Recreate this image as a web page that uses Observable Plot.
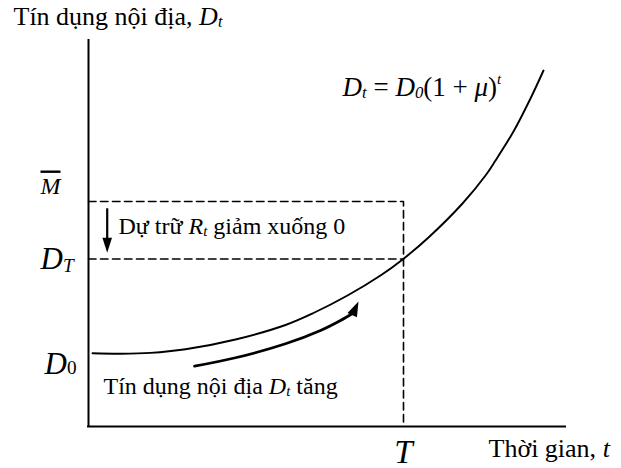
<!DOCTYPE html>
<html><head><meta charset="utf-8">
<script src="https://cdn.jsdelivr.net/npm/d3@7"></script>
<script src="https://cdn.jsdelivr.net/npm/@observablehq/plot@0.6"></script>
<style>body{margin:0;background:#fff} #chart svg{display:block}</style>
</head><body><div id="chart"></div>
<script>
// Domestic credit curve D_t (t in time units, D in credit units)
const curveT = [0.4, 3.2, 6.2, 9.7, 14.7, 19.7, 22.5, 25.9, 29.2, 31.45, 34.0, 37.4, 39.7, 40.7, 42.5, 44.2, 45.5];
const curveD = [7.32, 7.28, 7.36, 7.72, 8.70, 10.15, 11.35, 13.1, 15.1, 16.73, 18.9, 22.3, 25.1, 26.6, 29.5, 32.8, 35.6];
// curved "credit rises" arrow
const arrowT = [10.6, 14.7, 19.7, 23.2, 25.2, 26.4];
const arrowD = [6.03, 6.87, 8.27, 9.6, 10.6, 11.3];
const arrowTipT = 27.0, arrowTipD = 12.5;
// levels
const Mbar = 22.5, DT = 16.75, Tval = 31.5;
const xMax = 47.7, yMax = 38.6;
// "reserves fall" arrow
const downT = 1.87, downFrom = 21.77, downTo = 18.8, downTip = 17.37;

const labels = [
  {x: -7.5, y: 40.2, text: "Tín dụng nội địa, *D*_{*t*}", size: 26, anchor: "start"},
  {x: 25.4, y: 33.1, text: "*D*_{*t*} = *D*_{*0*}(1 + *μ*)^{*t*}", size: 27, anchor: "start"},
  {x: -4.8, y: 23.3, text: "*M*", size: 24, anchor: "start", overline: true},
  {x: 3.0, y: 19.3, text: "Dự trữ *R*_{*t*} giảm xuống 0", size: 24, anchor: "start"},
  {x: -4.8, y: 15.8, text: "*D*_{*T*}", size: 31, anchor: "start"},
  {x: -4.4, y: 5.3, text: "*D*~{0}", size: 31, anchor: "start"},
  {x: 1.5, y: 3.3, text: "Tín dụng nội địa *D*_{*t*} tăng", size: 24, anchor: "start"},
  {x: Tval, y: -3.6, text: "*T*", size: 33, anchor: "middle"},
  {x: 40.0, y: -3.0, text: "Thời gian, *t*", size: 26, anchor: "start"}
];

const curve = curveT.map((t, i) => ({t, d: curveD[i]}));
const arrow = arrowT.map((t, i) => ({t, d: arrowD[i]}));

function head(ux, uy, L, w) {
  const n = Math.hypot(ux, uy); ux /= n; uy /= n;
  const bx = -L * ux, by = -L * uy, px = -uy, py = ux;
  return {draw(ctx) {
    ctx.moveTo(0, 0);
    ctx.lineTo(bx + w * px, by + w * py);
    ctx.lineTo(bx - w * px, by - w * py);
    ctx.closePath();
  }};
}

const black = "#000";
const dash = "7.5,4.5";
const svg = Plot.plot({
  width: 621, height: 468,
  marginLeft: 88, marginRight: 56, marginTop: 40, marginBottom: 42,
  x: {domain: [0, xMax], axis: null},
  y: {domain: [0, yMax], axis: null},
  style: {fontFamily: "'Liberation Serif','Times New Roman',serif", background: "#fff", overflow: "visible", color: "#000"},
  marks: [
    Plot.line([[0, Mbar], [Tval, Mbar], [Tval, 0]], {stroke: black, strokeWidth: 1.6, strokeDasharray: dash}),
    Plot.line([[0, DT], [Tval, DT]], {stroke: black, strokeWidth: 1.6, strokeDasharray: dash}),
    Plot.ruleX([0], {y1: 0, y2: yMax, stroke: black, strokeWidth: 2, strokeLinecap: "square"}),
    Plot.ruleY([0], {x1: 0, x2: xMax, stroke: black, strokeWidth: 2, strokeLinecap: "square"}),
    Plot.line(curve, {x: "t", y: "d", curve: "catmull-rom", stroke: black, strokeWidth: 1.9}),
    Plot.line(arrow, {x: "t", y: "d", curve: "catmull-rom", stroke: black, strokeWidth: 2.7}),
    Plot.dot([{t: arrowTipT, d: arrowTipD}], {x: "t", y: "d", symbol: head(6, -13, 15, 5.2), fill: black, stroke: "none"}),
    Plot.ruleX([downT], {y1: downFrom, y2: downTo, stroke: black, strokeWidth: 2.2}),
    Plot.dot([{t: downT, d: downTip}], {x: "t", y: "d", symbol: head(0, 1, 15, 4.8), fill: black, stroke: "none"}),
    ...labels.map(l => Plot.text([l], {x: "x", y: "y", text: "text", fontSize: l.size, textAnchor: l.anchor, lineAnchor: "bottom", fill: black}))
  ]
});

function rich(el, size) {
  const src = el.textContent;
  const segs = []; let italic = false, mode = 0, buf = "";
  const push = () => { if (buf) segs.push({t: buf, it: italic, mode}); buf = ""; };
  for (let i = 0; i < src.length; i++) {
    const c = src[i];
    if (c === "*") { push(); italic = !italic; }
    else if ((c === "_" || c === "^" || c === "~") && src[i + 1] === "{") { push(); mode = c === "_" ? 1 : c === "^" ? 2 : 3; i++; }
    else if (c === "}" && mode) { push(); mode = 0; }
    else buf += c;
  }
  push();
  while (el.firstChild) el.removeChild(el.firstChild);
  let off = 0;
  for (const s of segs) {
    const ts = document.createElementNS("http://www.w3.org/2000/svg", "tspan");
    ts.textContent = s.t;
    if (s.it) ts.setAttribute("font-style", "italic");
    const target = s.mode === 1 ? 0.1 * size : s.mode === 2 ? -0.44 * size : 0;
    if (target !== off) { ts.setAttribute("dy", target - off); off = target; }
    if (s.mode === 1) ts.setAttribute("font-size", 0.62 * size);
    if (s.mode === 3) ts.setAttribute("font-size", 0.62 * size);
    if (s.mode === 2) ts.setAttribute("font-size", 0.55 * size);
    el.appendChild(ts);
  }
}
const byText = new Map(labels.map(l => [l.text, l]));
svg.querySelectorAll("text").forEach(el => {
  const l = byText.get(el.textContent);
  if (!l) return;
  rich(el, l.size);
  if (l.overline) el.style.textDecoration = "overline";
});
document.getElementById("chart").appendChild(svg);
</script>
</body></html>
